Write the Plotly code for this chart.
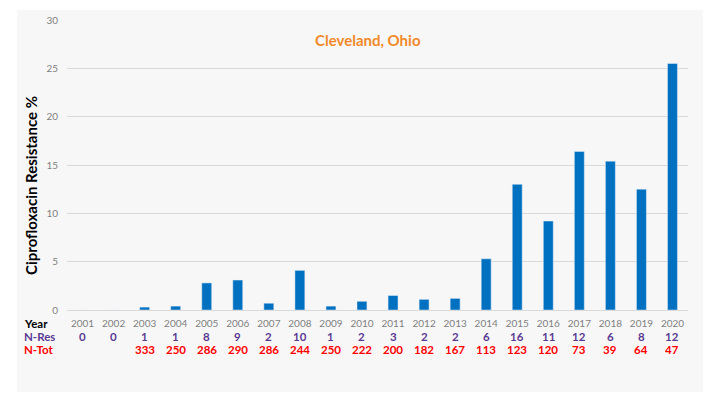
import plotly.graph_objects as go

years = [str(y) for y in range(2001, 2021)]
resistance = [0, 0, 0.3, 0.4, 2.8, 3.1, 0.7, 4.1, 0.4, 0.9, 1.5, 1.1, 1.2, 5.3, 13.0, 9.2, 16.4, 15.4, 12.5, 25.5]
n_res = ["0", "0", "1", "1", "8", "9", "2", "10", "1", "2", "3", "2", "2", "6", "16", "11", "12", "6", "8", "12"]
n_tot = ["", "", "333", "250", "286", "290", "286", "244", "250", "222", "200", "182", "167", "113", "123", "120", "73", "39", "64", "47"]
y_ticks = [0, 5, 10, 15, 20, 25, 30]

FONT = "Lato"
L, R, T, B = 67, 32, 20, 95
W, H = 720, 405
pw, ph = W - L - R, H - T - B

def px_x(x):
    return (x - L) / pw

def px_y(y):
    return (H - B - y) / ph

fig = go.Figure()
fig.add_trace(go.Bar(x=years, y=resistance, marker_color="#0070c0", width=0.32))

ann = []
ann.append(dict(text="Cleveland, Ohio", x=px_x(368), y=px_y(40), xref="paper", yref="paper",
                xanchor="center", yanchor="middle",
                showarrow=False, font=dict(family=FONT, size=15, color="#f28a2a", weight="bold")))
ann.append(dict(text="<b>Ciprofloxacin Resistance %</b>", x=px_x(31), y=px_y(186), xref="paper", yref="paper",
                xanchor="center", yanchor="middle",
                showarrow=False, textangle=-90, font=dict(family=FONT, size=15, color="#000000")))
for label, ypx, col in [("Year", 323, "#000000"), ("N-Res", 336, "#5b3a93"), ("N-Tot", 349, "#ff0000")]:
    ann.append(dict(text="<b>%s</b>" % label, x=px_x(23), y=px_y(ypx), xref="paper", yref="paper",
                    xanchor="left", yanchor="middle", height=12, borderpad=0,
                    showarrow=False, font=dict(family=FONT, size=11.5, color=col)))
n = len(years)
for i, (r, t) in enumerate(zip(n_res, n_tot)):
    xc = (i + 0.5) / n
    ann.append(dict(text="<b>%s</b>" % r, x=xc, y=px_y(336), xref="paper", yref="paper",
                    xanchor="center", yanchor="middle", height=12, borderpad=0,
                    showarrow=False, font=dict(family=FONT, size=11.5, color="#5b3a93")))
    if t:
        ann.append(dict(text="<b>%s</b>" % t, x=xc, y=px_y(349), xref="paper", yref="paper",
                        xanchor="center", yanchor="middle", height=12, borderpad=0,
                        showarrow=False, font=dict(family=FONT, size=11.5, color="#ff0000")))

fig.add_shape(type="rect", xref="paper", yref="paper",
              x0=px_x(17), x1=px_x(703), y0=px_y(392), y1=px_y(10),
              fillcolor="#f7f7f7", line=dict(width=0), layer="below")

fig.update_layout(
    width=W, height=H,
    margin=dict(l=L, r=R, t=T, b=B, autoexpand=False),
    paper_bgcolor="#ffffff", plot_bgcolor="#f7f7f7",
    showlegend=False,
    annotations=ann,
)
fig.update_xaxes(type="category", range=[-0.5, n - 0.5], tickfont=dict(family=FONT, size=10, color="#7f7f7f"),
                 showline=True, linecolor="#d9d9d9", linewidth=1, ticks="", ticklabelstandoff=4,
                 fixedrange=True)
fig.update_yaxes(range=[0, 30], tickvals=y_ticks, showgrid=True, gridcolor="#d9d9d9",
                 tickfont=dict(family=FONT, size=10, color="#7f7f7f"), zeroline=False,
                 ticks="", ticklabelstandoff=8, fixedrange=True)

fig.write_html("out.html", config={"displayModeBar": False},
               post_script="document.body.style.margin='0';")
